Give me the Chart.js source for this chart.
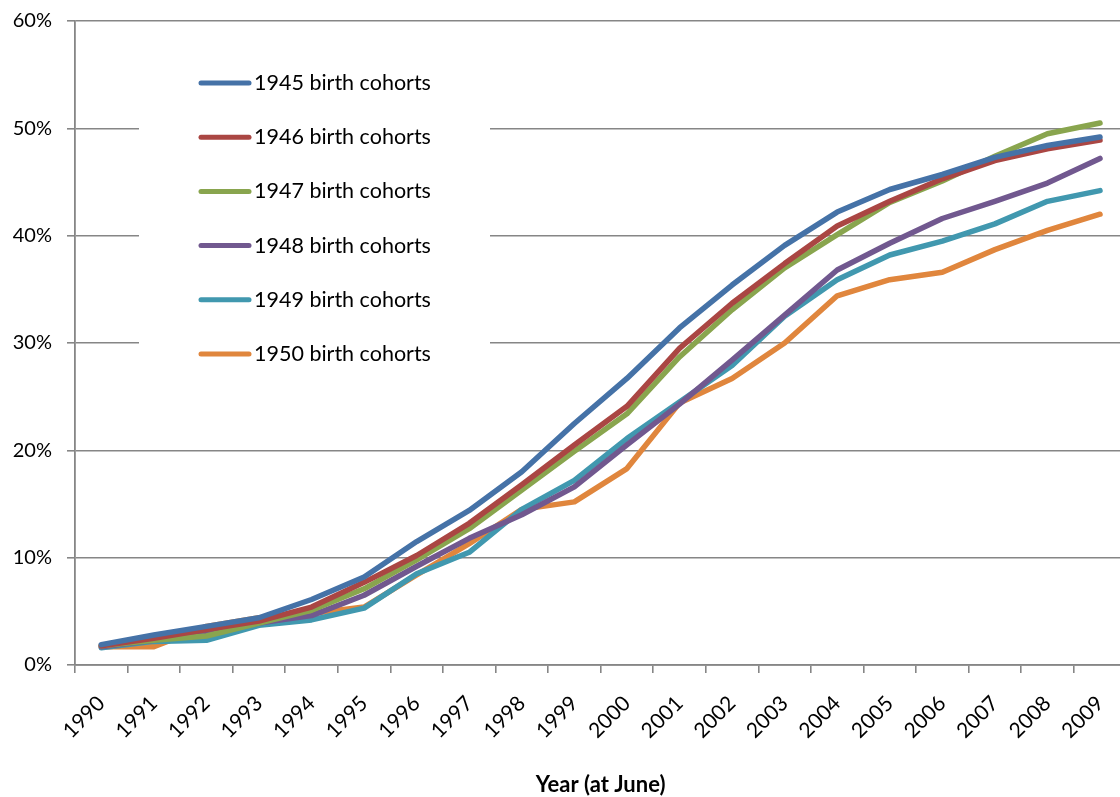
<!DOCTYPE html>
<html>
<head>
<meta charset="utf-8">
<script src="https://cdn.jsdelivr.net/npm/chart.js@4.4.0/dist/chart.umd.min.js"></script>
<style>
  html, body { margin: 0; padding: 0; background: #fff; overflow: hidden; }
  #wrap { position: absolute; left: 0; top: 0; width: 1136px; height: 797px; }
</style>
</head>
<body>
<div id="wrap"><canvas id="myChart"></canvas></div>
<script>
// share of each birth cohort, by year (%)
var years = ["1990", "1991", "1992", "1993", "1994", "1995", "1996", "1997", "1998", "1999",
             "2000", "2001", "2002", "2003", "2004", "2005", "2006", "2007", "2008", "2009"];
var cohort1945 = [1.9, 2.8, 3.6, 4.4, 6.1, 8.2, 11.5, 14.4, 18.0, 22.5, 26.7, 31.4, 35.4, 39.1, 42.2, 44.3, 45.7, 47.3, 48.4, 49.2];
var cohort1946 = [1.8, 2.5, 3.3, 4.1, 5.4, 7.7, 10.2, 13.2, 16.8, 20.5, 24.1, 29.5, 33.7, 37.4, 40.9, 43.2, 45.3, 47.0, 48.1, 48.9];
var cohort1947 = [1.8, 2.3, 2.7, 3.9, 5.1, 7.1, 9.8, 12.7, 16.3, 19.9, 23.4, 28.7, 33.1, 37.0, 40.1, 43.1, 45.1, 47.4, 49.5, 50.5];
var cohort1948 = [1.7, 2.3, 3.1, 3.9, 4.6, 6.5, 9.2, 11.8, 14.0, 16.6, 20.5, 24.3, 28.4, 32.6, 36.8, 39.3, 41.6, 43.2, 44.9, 47.2];
var cohort1949 = [1.6, 2.2, 2.3, 3.7, 4.2, 5.3, 8.5, 10.5, 14.5, 17.2, 21.1, 24.5, 27.9, 32.5, 35.9, 38.2, 39.5, 41.1, 43.2, 44.2];
var cohort1950 = [1.7, 1.7, 3.6, 4.4, 4.8, 5.4, 8.4, 11.3, 14.5, 15.2, 18.3, 24.4, 26.7, 30.0, 34.4, 35.9, 36.6, 38.7, 40.5, 42.0];
var seriesNames = ["1945 birth cohorts", "1946 birth cohorts", "1947 birth cohorts",
                   "1948 birth cohorts", "1949 birth cohorts", "1950 birth cohorts"];
var yMin = 0, yMax = 60, yStep = 10;

var colors = ['#4572A7', '#AA4643', '#89A54E', '#71588F', '#4198AF', '#E0863D'];
var allSeries = [cohort1945, cohort1946, cohort1947, cohort1948, cohort1949, cohort1950];
var gridGray = '#868686';

// legend drawn inside the plot, on a white box that hides the gridlines
var insideLegend = {
  id: 'insideLegend',
  beforeDatasetsDraw: function(chart) {
    var ctx = chart.ctx;
    ctx.save();
    ctx.fillStyle = '#fff';
    ctx.fillRect(139, 42, 351, 333);
    ctx.restore();
  },
  afterDatasetsDraw: function(chart) {
    var ctx = chart.ctx;
    ctx.save();
    ctx.font = '21.5px Lato';
    ctx.textBaseline = 'middle';
    ctx.fillStyle = '#000';
    chart.data.datasets.forEach(function(ds, i) {
      var y = 83 + i * 54.2;
      ctx.strokeStyle = ds.borderColor;
      ctx.lineWidth = 5;
      ctx.lineCap = 'round';
      ctx.beginPath();
      ctx.moveTo(201, y);
      ctx.lineTo(249, y);
      ctx.stroke();
      ctx.fillText(ds.label, 254, y);
    });
    ctx.restore();
  }
};

var ctx = document.getElementById('myChart').getContext('2d');
var chart = new Chart(ctx, {
  type: 'line',
  data: {
    labels: years,
    datasets: allSeries.map(function(vals, i) {
      return {
        label: seriesNames[i],
        data: vals,
        borderColor: colors[i],
        backgroundColor: colors[i],
        borderWidth: 5.5,
        borderCapStyle: 'round',
        borderJoinStyle: 'round',
        pointRadius: 0,
        tension: 0,
        fill: false
      };
    })
  },
  options: {
    responsive: true,
    maintainAspectRatio: false,
    animation: false,
    devicePixelRatio: 1,
    layout: { padding: { top: 21, right: 7, left: 0, bottom: 0 } },
    plugins: { legend: { display: false }, tooltip: { enabled: false } },
    scales: {
      x: {
        offset: true,
        grid: { display: true, drawOnChartArea: false, drawTicks: true, tickLength: 8, offset: true, color: gridGray, lineWidth: 1.6 },
        border: { display: true, color: gridGray, width: 1.8 },
        ticks: { maxRotation: 45, minRotation: 45, autoSkip: false, padding: 18, color: '#000', font: { family: 'Lato', size: 21 } },
        title: { display: true, text: 'Year (at June)', color: '#000', font: { family: 'Lato', size: 22, weight: 'bold', lineHeight: 1.0 }, padding: { top: 0, bottom: 1 } },
        afterFit: function(s) { s.height = 132; }
      },
      y: {
        min: yMin, max: yMax,
        ticks: { stepSize: yStep, padding: 15, color: '#000', font: { family: 'Lato', size: 20 },
                 callback: function(v) { return v + '%'; } },
        grid: { color: gridGray, lineWidth: 1.6, tickLength: 8 },
        border: { display: true, color: gridGray, width: 1.8 },
        afterFit: function(s) { s.width = 75; s.paddingTop = 0; s.paddingBottom = 0; }
      }
    }
  },
  plugins: [insideLegend]
});
</script>
</body>
</html>
